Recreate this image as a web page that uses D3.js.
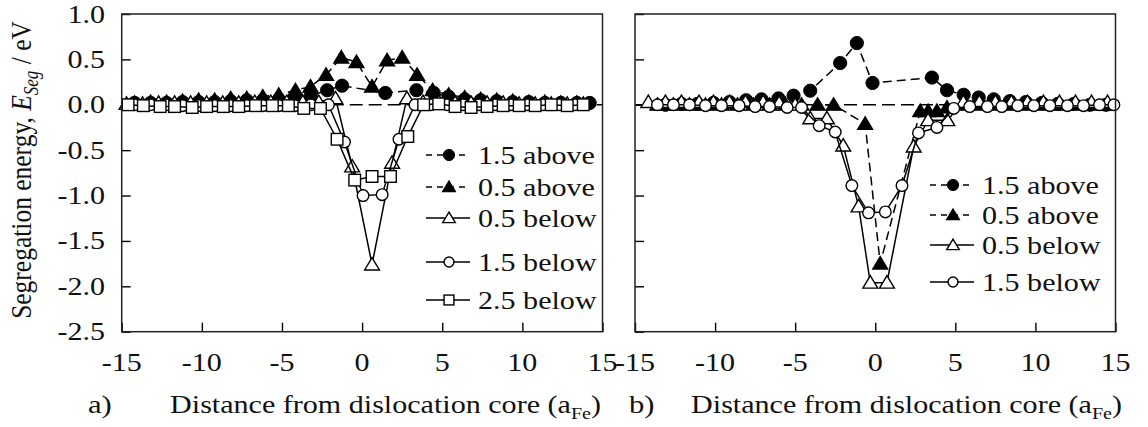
<!DOCTYPE html>
<html>
<head>
<meta charset="utf-8">
<script src="https://cdn.jsdelivr.net/npm/d3@7"></script>
<style>
	body { margin: 0; background: #fff; }
	text { font-family: "Liberation Serif", "Times New Roman", serif; fill: #111; }
</style>
</head>
<body>
<div id="chart"></div>
<script>
// tick values
var xTicks = [-15, -10, -5, 0, 5, 10, 15];
var yTicks = [1.0, 0.5, 0.0, -0.5, -1.0, -1.5, -2.0, -2.5];

// panel a) series, [distance, energy]
var a15above = [[-14.2,0.02],[-13.2,0.02],[-12.2,0.02],[-11.2,0.03],[-10.2,0.03],[-9.2,0.03],[-8.2,0.04],[-7.2,0.05],[-6.2,0.05],[-5.2,0.06],[-4.2,0.08],[-3.2,0.1],[-2.18,0.16],[-1.25,0.21],[1.45,0.13],[3.39,0.16],[4.47,0.13],[5.4,0.09],[6.4,0.06],[7.4,0.05],[8.4,0.04],[9.4,0.03],[10.4,0.03],[11.4,0.02],[12.4,0.02],[13.4,0.02],[14.2,0.02]];
var a05above = [[-14.2,0.02],[-13.2,0.03],[-12.2,0.03],[-11.2,0.04],[-10.2,0.05],[-9.2,0.05],[-8.2,0.07],[-7.2,0.07],[-6.2,0.09],[-5.2,0.11],[-4.16,0.16],[-3.22,0.2],[-2.25,0.33],[-1.3,0.52],[-0.35,0.47],[0.62,0.2],[1.56,0.49],[2.5,0.52],[3.43,0.33],[4.4,0.16],[5.4,0.11],[6.4,0.08],[7.4,0.06],[8.4,0.05],[9.4,0.04],[10.4,0.03],[11.4,0.03],[12.4,0.02],[13.4,0.02]];
var a05below = [[-14.7,0.01],[-13.7,0.01],[-12.7,0.02],[-11.7,0.02],[-10.7,0.02],[-9.7,0.02],[-8.7,0.02],[-7.7,0.02],[-6.7,0.03],[-5.7,0.03],[-4.7,0.03],[-3.7,0.03],[-2.7,0.03],[-1.66,0.07],[-0.62,-0.68],[0.62,-1.76],[1.87,-0.64],[2.8,0.07],[3.8,0.03],[4.8,0.03],[5.8,0.02],[6.8,0.02],[7.8,0.02],[8.8,0.02],[9.8,0.01],[10.8,0.01],[11.8,0.01],[12.8,0.01],[13.8,0.01]];
var a15below = [[-14.2,0.0],[-13.2,0.0],[-12.2,0.0],[-11.2,-0.01],[-10.2,-0.01],[-9.2,-0.01],[-8.2,-0.01],[-7.2,-0.01],[-6.2,-0.01],[-5.2,-0.01],[-4.2,-0.01],[-3.2,0.0],[-2.1,0.0],[-1.1,-0.41],[0.06,-1.0],[1.25,-0.99],[2.3,-0.38],[3.3,0.0],[4.3,0.0],[5.3,0.0],[6.3,0.0],[7.3,0.0],[8.3,0.0],[9.3,0.0],[10.3,0.0],[11.3,0.0],[12.3,0.0],[13.3,0.0]];
var a25below = [[-14.6,0.0],[-13.65,-0.01],[-12.6,-0.02],[-11.7,-0.02],[-10.6,-0.03],[-9.7,-0.02],[-8.66,-0.02],[-7.7,-0.02],[-6.65,-0.01],[-5.6,-0.01],[-4.6,-0.01],[-3.64,-0.04],[-2.6,-0.04],[-1.56,-0.38],[-0.46,-0.83],[0.62,-0.79],[1.77,-0.79],[2.85,-0.35],[3.84,0.0],[4.78,0.01],[5.8,-0.02],[6.8,-0.03],[7.8,-0.02],[8.8,-0.01],[9.8,-0.01],[10.8,-0.01],[11.8,0.0],[12.8,-0.01],[13.8,0.0]];

// panel b) series
var b15above = [[-13.1,0.0],[-12.1,0.01],[-11.1,0.01],[-10.1,0.02],[-9.1,0.03],[-8.06,0.05],[-7.1,0.06],[-6.04,0.07],[-5.1,0.1],[-4.06,0.155],[-2.19,0.46],[-1.15,0.68],[-0.17,0.24],[3.54,0.3],[4.48,0.16],[5.52,0.11],[6.46,0.08],[7.4,0.06],[8.4,0.04],[9.4,0.03],[10.4,0.02],[11.4,0.01],[12.4,0.01],[13.4,0.0],[14.4,0.0]];
var b05above = [[-13.6,0.0],[-12.6,0.0],[-11.6,0.0],[-10.6,0.0],[-9.6,0.0],[-8.6,0.0],[-7.6,0.0],[-6.6,0.0],[-5.6,0.0],[-4.6,0.0],[-3.6,0.0],[-2.6,0.0],[-0.63,-0.21],[0.31,-1.75],[2.81,-0.07],[3.3,-0.07],[3.85,-0.07],[4.48,-0.03],[5.5,0.0],[6.5,0.0],[7.5,0.0],[8.5,0.0],[9.5,0.0],[10.5,0.0],[11.5,0.0],[12.5,0.0],[13.5,0.0],[14.5,0.0]];
var b05below = [[-14.17,0.03],[-13.1,0.03],[-12.1,0.03],[-11.0,0.03],[-10.1,0.03],[-9.1,0.03],[-8.1,0.03],[-7.0,0.03],[-6.0,0.02],[-5.0,0.0],[-4.06,-0.15],[-3.02,-0.15],[-2.0,-0.45],[-1.04,-1.12],[-0.31,-1.96],[0.73,-1.96],[2.4,-0.46],[3.3,-0.17],[4.5,-0.17],[5.5,0.03],[6.5,0.03],[7.5,0.03],[8.5,0.03],[9.5,0.03],[10.5,0.03],[11.5,0.03],[12.5,0.03],[13.5,0.03],[14.5,0.03]];
var b15below = [[-13.6,0.0],[-12.6,0.0],[-11.6,0.0],[-10.6,-0.01],[-9.6,-0.01],[-8.5,-0.01],[-7.5,-0.02],[-6.6,-0.02],[-5.5,-0.03],[-4.6,-0.03],[-3.5,-0.23],[-2.5,-0.3],[-1.46,-0.89],[-0.42,-1.19],[0.63,-1.18],[1.67,-0.89],[2.7,-0.31],[3.85,-0.25],[4.9,-0.04],[5.9,-0.02],[7.0,-0.02],[7.9,-0.02],[8.9,-0.01],[9.9,-0.01],[10.9,-0.01],[12.0,-0.01],[13.0,-0.01],[14.0,0.0],[14.9,0.0]];

var legendA = ["1.5 above", "0.5 above", "0.5 below", "1.5 below", "2.5 below"];
var legendB = ["1.5 above", "0.5 above", "0.5 below", "1.5 below"];

const W = 1148, H = 427;
const SX = 1.18; // source figure is stretched horizontally
const TOP = 14, BOTTOM = 331.7;

var svg = d3.select("#chart").append("svg")
	.attr("width", W)
	.attr("height", H);

var y = d3.scaleLinear().domain([-2.5, 1]).range([BOTTOM, TOP]);

function label(g, x, yy, str, anchor, size) {
	return g.append("text")
		.attr("transform", "translate(" + x + "," + yy + ") scale(" + SX + ",1)")
		.attr("text-anchor", anchor || "middle")
		.style("font-size", (size || 25.5) + "px")
		.text(str);
}

function marker(g, shape, px, py, scale) {
	var s = scale || 1;
	if (shape === "dot") {
		g.append("circle").attr("cx", px).attr("cy", py).attr("r", 6.6 * s)
			.attr("fill", "#000").attr("stroke", "#000");
	} else if (shape === "circle") {
		g.append("circle").attr("cx", px).attr("cy", py).attr("r", 5.8 * s)
			.attr("fill", "#fff").attr("stroke", "#000").attr("stroke-width", 1.4);
	} else if (shape === "square") {
		g.append("rect").attr("x", px - 5.8 * s).attr("y", py - 5.8 * s)
			.attr("width", 11.6 * s).attr("height", 11.6 * s)
			.attr("fill", "#fff").attr("stroke", "#000").attr("stroke-width", 1.4);
	} else {
		var filled = shape === "tri";
		g.append("path")
			.attr("d", "M" + px + "," + (py - 7 * s) + " L" + (px + 7.4 * s) + "," + (py + 5.4 * s) +
				" L" + (px - 7.4 * s) + "," + (py + 5.4 * s) + " Z")
			.attr("fill", filled ? "#000" : "#fff").attr("stroke", "#000").attr("stroke-width", 1.4);
	}
}

function panel(x0, x1, series, legend, legX, legY, showY) {
	var x = d3.scaleLinear().domain([-15, 15]).range([x0, x1]);
	var g = svg.append("g");

	// zero reference line
	g.append("line")
		.attr("x1", x0).attr("x2", x1)
		.attr("y1", y(0)).attr("y2", y(0))
		.attr("stroke", "#000").attr("stroke-width", 1.3)
		.attr("stroke-dasharray", "13,6");

	// inward ticks
	g.append("g")
		.attr("transform", "translate(0," + BOTTOM + ")")
		.call(d3.axisBottom(x).tickValues(xTicks).tickSize(-9).tickSizeOuter(0).tickFormat(""))
		.call(function(a) { a.select(".domain").remove(); a.selectAll("line").attr("stroke", "#000").attr("stroke-width", 1.4); });
	g.append("g")
		.attr("transform", "translate(" + x0 + ",0)")
		.call(d3.axisLeft(y).tickValues(yTicks).tickSize(-9).tickSizeOuter(0).tickFormat(""))
		.call(function(a) { a.select(".domain").remove(); a.selectAll("line").attr("stroke", "#000").attr("stroke-width", 1.4); });

	xTicks.forEach(function(t) {
		label(g, x(t), 371, String(t));
	});
	if (showY) {
		yTicks.forEach(function(t) {
			label(g, 105, y(t) + 8.5, t.toFixed(1), "end");
		});
	}

	var line = d3.line()
		.x(function(d) { return x(d[0]); })
		.y(function(d) { return y(d[1]); });

	series.forEach(function(s) {
		g.append("path")
			.datum(s.data)
			.attr("d", line)
			.attr("fill", "none")
			.attr("stroke", "#000")
			.attr("stroke-width", 1.5)
			.attr("stroke-dasharray", s.dashed ? "9,5" : null);
		var mg = g.append("g");
		s.data.forEach(function(d) {
			marker(mg, s.shape, x(d[0]), y(d[1]));
		});
	});

	// legend
	series.forEach(function(s, i) {
		var ly = legY[i];
		g.append("line")
			.attr("x1", legX).attr("x2", legX + 44)
			.attr("y1", ly).attr("y2", ly)
			.attr("stroke", "#000").attr("stroke-width", 1.5)
			.attr("stroke-dasharray", s.dashed ? "6,5" : null);
		marker(g, s.shape, legX + 23, ly, 0.85);
		label(g, legX + 52, ly + 8.5, legend[i], "start");
	});

	// frame
	g.append("rect")
		.attr("x", x0).attr("y", TOP)
		.attr("width", x1 - x0).attr("height", BOTTOM - TOP)
		.attr("fill", "none").attr("stroke", "#222").attr("stroke-width", 1.5);

	return x;
}

panel(121.7, 602.5, [
	{ data: a15above, shape: "dot", dashed: true },
	{ data: a05above, shape: "tri", dashed: true },
	{ data: a05below, shape: "otri", dashed: false },
	{ data: a15below, shape: "circle", dashed: false },
	{ data: a25below, shape: "square", dashed: false }
], legendA, 426, [155, 187, 218, 262, 300], true);

panel(635, 1115.5, [
	{ data: b15above, shape: "dot", dashed: true },
	{ data: b05above, shape: "tri", dashed: true },
	{ data: b05below, shape: "otri", dashed: false },
	{ data: b15below, shape: "circle", dashed: false }
], legendB, 930, [185, 215, 245, 282], false);

// panel letters and axis titles
label(svg, 88, 413, "a)", "start", 26);
label(svg, 629, 413, "b)", "start", 26);

function xTitle(xEnd) {
	var t = svg.append("text")
		.attr("transform", "translate(" + xEnd + ",413) scale(" + SX + ",1)")
		.attr("text-anchor", "end")
		.style("font-size", "25.5px");
	t.append("tspan").text("Distance from dislocation core (a");
	t.append("tspan").attr("dy", 6).style("font-size", "17px").text("Fe");
	t.append("tspan").attr("dy", -6).text(")");
}
xTitle(601);
xTitle(1122);

var yt = svg.append("text")
	.attr("transform", "translate(31,170) scale(" + SX + ",1) rotate(-90)")
	.attr("text-anchor", "middle")
	.style("font-size", "25.5px");
yt.append("tspan").text("Segregation energy, ");
yt.append("tspan").style("font-style", "italic").text("E");
yt.append("tspan").attr("dy", 6).style("font-size", "17px").style("font-style", "italic").text("Seg");
yt.append("tspan").attr("dy", -6).text(" / eV");
</script>
</body>
</html>
